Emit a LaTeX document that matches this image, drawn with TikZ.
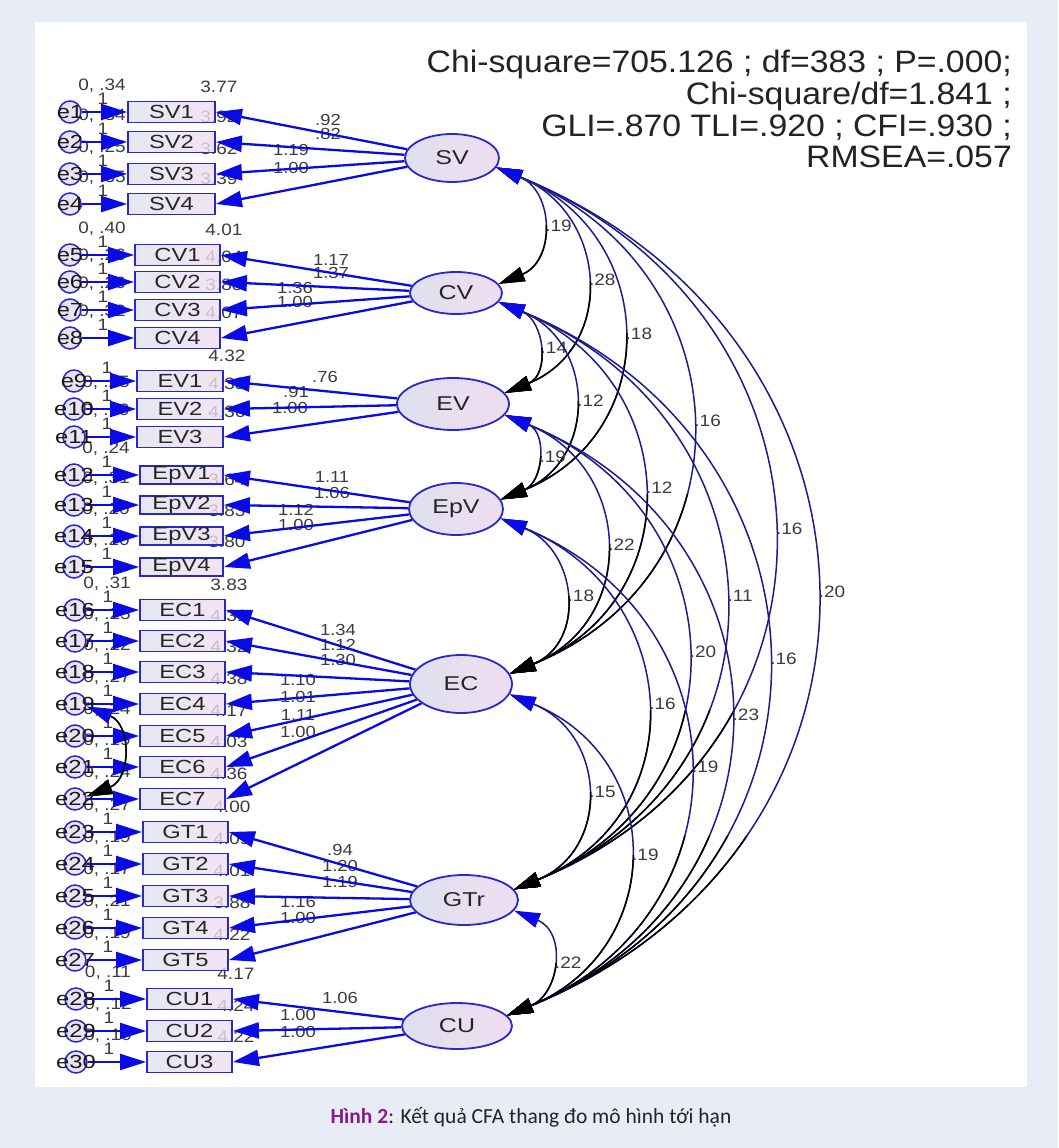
\documentclass[tikz,border=0pt]{standalone}
\usepackage{fontspec}
\setmainfont{Carlito}
\newfontfamily\hdrfont[FakeStretch=1.09]{Liberation Sans}
\newfontfamily\lblfont[FakeStretch=1.25]{Liberation Sans}
\newfontfamily\numfont[FakeStretch=1.15]{Liberation Sans}
\usetikzlibrary{arrows.meta,shapes.geometric}
\pgfdeclarelayer{bg}\pgfdeclarelayer{labels}\pgfdeclarelayer{lines}
\pgfsetlayers{bg,labels,lines,main}
\definecolor{bgout}{RGB}{232,236,247}
\definecolor{boxL}{RGB}{224,227,238}
\definecolor{boxR}{RGB}{240,222,240}
\definecolor{latL}{RGB}{222,224,238}
\definecolor{latR}{RGB}{240,222,242}
\definecolor{errL}{RGB}{222,224,240}
\definecolor{errR}{RGB}{238,222,242}
\definecolor{bord}{RGB}{40,40,205}
\definecolor{arr}{RGB}{10,10,230}
\definecolor{navy}{RGB}{28,28,140}
\definecolor{numc}{RGB}{60,60,60}
\definecolor{hdrc}{RGB}{35,35,35}
\definecolor{capp}{RGB}{140,25,140}
\def\boxw{87pt}\def\boxh{21pt}
\tikzset{
  obs/.style={rectangle, draw=bord, line width=1.8pt, inner sep=0pt, minimum width=\boxw, minimum height=\boxh,
    left color=boxL, right color=boxR, fill opacity=0.8, text opacity=1, text=black!85,
    font=\lblfont\fontsize{19}{19}\selectfont},
  err/.style={circle, draw=bord, line width=1.5pt, inner sep=0pt, minimum size=22pt,
    left color=errL, right color=errR, fill opacity=0.85, text opacity=1, text=black!90,
    font=\lblfont\fontsize{19}{19}\selectfont},
  lat/.style={ellipse, draw=bord, line width=1.8pt, inner sep=0pt, left color=latL, right color=latR,
    text=black!85, font=\lblfont\fontsize{20}{20}\selectfont},
  num/.style={font=\numfont\fontsize{16.5}{16.5}\selectfont, text=numc, inner sep=0pt},
  ldl/.style={font=\numfont\fontsize{16}{16}\selectfont, text=numc, inner sep=0pt},
  covlbl/.style={font=\numfont\fontsize{16.5}{16.5}\selectfont, text=numc, inner sep=0pt, anchor=west, xshift=4pt},
  load/.style={draw=arr, line width=2.3pt, -{Triangle[length=26pt,width=16pt]}},
  covline/.style={draw=navy, line width=1.5pt},
  covtips/.style={{Triangle[length=26pt,width=15pt,color=arr]}-{Triangle[length=26pt,width=15pt,color=black]}},
  hdr/.style={font=\hdrfont\fontsize{31}{31}\selectfont, text=hdrc, inner sep=0pt, anchor=base east},
}
\newcommand\obsrow[7]{%
  \node[obs] (#1) at (#2,#3) {#1};
  \node[err] (#4) at (#5,#3) {\makebox[0pt]{#4}};
  \begin{pgfonlayer}{lines}\draw[load] (#4) -- (#1);\end{pgfonlayer}
  \begin{pgfonlayer}{labels}
    \node[num] (one#4) at ({#5+33},{#3-13}) {1};
    \if\relax\detokenize{#6}\relax\else\node[num] (var#4) at ({#5+32},{#3-26}) {#6};\fi
    \if\relax\detokenize{#7}\relax\else\path (#1.east) ++(3,-25) node[num] (int#1) {#7};\fi
  \end{pgfonlayer}}
\newcommand\covarc[5]{%
  \begin{pgfonlayer}{lines}
  \draw[covline, covtips] (#1.-12) .. controls +({0.49*#3},{0.2*#3}) and +({0.49*#3},{-0.2*#3}) .. (#2.12) node[pos=0.5, covlbl] (L#1#2) {#4};
  \begin{scope}
    \clip (0,#5) rectangle (1058,1148);
    \draw[covline, draw=black, covtips] (#1.-12) .. controls +({0.49*#3},{0.2*#3}) and +({0.49*#3},{-0.2*#3}) .. (#2.12);
  \end{scope}
  \end{pgfonlayer}}
\begin{document}
\begin{tikzpicture}[x=1pt,y=-1pt]
\useasboundingbox (0,0) rectangle (1058,1148);
\begin{pgfonlayer}{bg}
\fill[bgout] (0,0) rectangle (1058,1148);
\fill[white] (35,22) rectangle (1027,1087);
\end{pgfonlayer}

% header
\node[hdr] (h1) at (1012,73) {Chi-square=705.126 ; df=383 ; P=.000;};
\node[hdr] (h2) at (1012,104) {Chi-square/df=1.841 ;};
\node[hdr] (h3) at (1012,136) {GLI=.870 TLI=.920 ; CFI=.930 ;};
\node[hdr] (h4) at (1012,167) {RMSEA=.057};

% latent variables
\node[lat, minimum width=94pt, minimum height=48pt] (SV) at (452,158) {SV};
\node[lat, minimum width=92pt, minimum height=42pt] (CV) at (456,293) {CV};
\node[lat, minimum width=112pt, minimum height=52pt] (EV) at (453,404) {EV};
\node[lat, minimum width=94pt, minimum height=52pt] (EpV) at (456,509) {EpV};
\node[lat, minimum width=102pt, minimum height=58pt] (EC) at (461,684) {EC};
\node[lat, minimum width=108pt, minimum height=50pt] (GTr) at (464,900) {GTr};
\node[lat, minimum width=110pt, minimum height=46pt] (CU) at (457,1026) {CU};

% observed rows
\def\boxw{87pt}\def\boxh{21pt}
\obsrow{SV1}{171.5}{112}{e1}{70}{0, .34}{3.77}
\obsrow{SV2}{171.5}{142}{e2}{70}{0, .34}{3.92}
\obsrow{SV3}{171.5}{174}{e3}{70}{0, .25}{3.62}
\obsrow{SV4}{171.5}{204}{e4}{70}{0, .35}{3.39}
\def\boxw{85pt}
\obsrow{CV1}{177.5}{255}{e5}{70}{0, .40}{4.01}
\obsrow{CV2}{177.5}{282}{e6}{70}{0, .26}{4.04}
\obsrow{CV3}{177.5}{310}{e7}{70}{0, .26}{3.88}
\obsrow{CV4}{177.5}{338}{e8}{70}{0, .32}{4.07}
\def\boxw{86pt}
\obsrow{EV1}{180}{381}{e9}{74}{}{4.32}
\obsrow{EV2}{180}{409}{e10}{74}{0, .25}{4.38}
\obsrow{EV3}{180}{437}{e11}{74}{0, .19}{4.36}
\def\boxw{83pt}\def\boxh{18pt}
\obsrow{EpV1}{181.5}{475}{e12}{74}{0, .24}{}
\obsrow{EpV2}{181.5}{505}{e13}{74}{0, .31}{3.64}
\obsrow{EpV3}{181.5}{536}{e14}{74}{0, .20}{3.83}
\obsrow{EpV4}{181.5}{567}{e15}{74}{0, .20}{3.80}
\def\boxw{85pt}\def\boxh{21pt}
\obsrow{EC1}{182.5}{610}{e16}{75}{0, .31}{3.83}
\obsrow{EC2}{182.5}{641}{e17}{75}{0, .25}{4.31}
\obsrow{EC3}{182.5}{672}{e18}{75}{0, .22}{4.32}
\obsrow{EC4}{182.5}{704}{e19}{75}{0, .27}{4.38}
\obsrow{EC5}{182.5}{736}{e20}{75}{0, .24}{4.17}
\obsrow{EC6}{182.5}{767}{e21}{75}{0, .19}{4.03}
\obsrow{EC7}{182.5}{799}{e22}{75}{0, .24}{4.36}
\obsrow{GT1}{185.5}{832}{e23}{75}{0, .27}{4.00}
\obsrow{GT2}{185.5}{864}{e24}{75}{0, .19}{4.09}
\obsrow{GT3}{185.5}{896}{e25}{75}{0, .17}{4.01}
\obsrow{GT4}{185.5}{928}{e26}{75}{0, .21}{3.88}
\obsrow{GT5}{185.5}{960}{e27}{75}{0, .19}{4.22}
\obsrow{CU1}{189.5}{999}{e28}{76}{0, .11}{4.17}
\obsrow{CU2}{189.5}{1031}{e29}{76}{0, .12}{4.24}
\obsrow{CU3}{189.5}{1062}{e30}{76}{0, .10}{4.22}

% loadings
\begin{pgfonlayer}{lines}
\foreach \v in {SV1,SV2,SV3,SV4} \draw[load] (SV) -- (\v.east);
\foreach \v in {CV1,CV2,CV3,CV4} \draw[load] (CV) -- (\v.east);
\foreach \v in {EV1,EV2,EV3} \draw[load] (EV) -- (\v.east);
\foreach \v in {EpV1,EpV2,EpV3,EpV4} \draw[load] (EpV) -- (\v.east);
\foreach \v in {EC1,EC2,EC3,EC4,EC5,EC6,EC7} \draw[load] (EC) -- (\v.east);
\foreach \v in {GT1,GT2,GT3,GT4,GT5} \draw[load] (GTr) -- (\v.east);
\foreach \v in {CU1,CU2,CU3} \draw[load] (CU) -- (\v.east);
\end{pgfonlayer}

\begin{pgfonlayer}{labels}
\node[ldl] (lSV1) at (328,120) {.92};
\node[ldl] (lSV2) at (328,134) {.82};
\node[ldl] (lSV3) at (291,150) {1.19};
\node[ldl] (lSV4) at (291,168) {1.00};
\node[ldl] (lCV1) at (331,260) {1.17};
\node[ldl] (lCV2) at (331,273) {1.37};
\node[ldl] (lCV3) at (295,288) {1.36};
\node[ldl] (lCV4) at (295,302) {1.00};
\node[ldl] (lEV1) at (325,377) {.76};
\node[ldl] (lEV2) at (296,392) {.91};
\node[ldl] (lEV3) at (290,408) {1.00};
\node[ldl] (lEpV1) at (332,477) {1.11};
\node[ldl] (lEpV2) at (332,493) {1.06};
\node[ldl] (lEpV3) at (296,510) {1.12};
\node[ldl] (lEpV4) at (296,525) {1.00};
\node[ldl] (lEC1) at (338,630) {1.34};
\node[ldl] (lEC2) at (338,645) {1.12};
\node[ldl] (lEC3) at (338,660) {1.30};
\node[ldl] (lEC4) at (298,680) {1.10};
\node[ldl] (lEC5) at (298,697) {1.01};
\node[ldl] (lEC6) at (298,715) {1.11};
\node[ldl] (lEC7) at (298,732) {1.00};
\node[ldl] (lGT1) at (340,850) {.94};
\node[ldl] (lGT2) at (340,866) {1.20};
\node[ldl] (lGT3) at (340,882) {1.19};
\node[ldl] (lGT4) at (298,902) {1.16};
\node[ldl] (lGT5) at (298,918) {1.00};
\node[ldl] (lCU1) at (340,998) {1.06};
\node[ldl] (lCU2) at (298,1015) {1.00};
\node[ldl] (lCU3) at (298,1032) {1.00};
\end{pgfonlayer}

% covariances
\covarc{SV}{CV}{117}{.19}{225}
\covarc{SV}{EV}{228}{.28}{281}
\covarc{SV}{EpV}{333}{.18}{333}
\covarc{SV}{EC}{508}{.16}{494}
\covarc{SV}{GTr}{724}{.16}{710}
\covarc{SV}{CU}{850}{.20}{836}
\covarc{CV}{EV}{93}{.14}{348}
\covarc{CV}{EpV}{198}{.12}{401}
\covarc{CV}{EC}{373}{.12}{494}
\covarc{CV}{GTr}{589}{.11}{710}
\covarc{CV}{CU}{715}{.16}{836}
\covarc{EV}{EpV}{87}{.19}{456}
\covarc{EV}{EC}{262}{.22}{544}
\covarc{EV}{GTr}{478}{.20}{710}
\covarc{EV}{CU}{604}{.23}{836}
\covarc{EpV}{EC}{157}{.18}{596}
\covarc{EpV}{GTr}{373}{.16}{710}
\covarc{EpV}{CU}{499}{.19}{836}
\covarc{EC}{GTr}{198}{.15}{792}
\covarc{EC}{CU}{324}{.19}{855}
\covarc{GTr}{CU}{108}{.22}{963}

% error covariance e19 - e22
\begin{pgfonlayer}{lines}
\draw[covline, covtips] (e19.-12) .. controls +(45,18) and +(45,-18) .. (e22.12);
\begin{scope}
\clip (0,714) rectangle (1058,1148);
\draw[covline, draw=black, covtips] (e19.-12) .. controls +(45,18) and +(45,-18) .. (e22.12);
\end{scope}
\end{pgfonlayer}

% caption
\node[font=\fontsize{21.5}{22}\selectfont, text=hdrc, inner sep=0pt] (cap) at (531,1117) {\textbf{\color{capp}Hình 2}: Kết quả CFA thang đo mô hình tới hạn};
\end{tikzpicture}
\end{document}
